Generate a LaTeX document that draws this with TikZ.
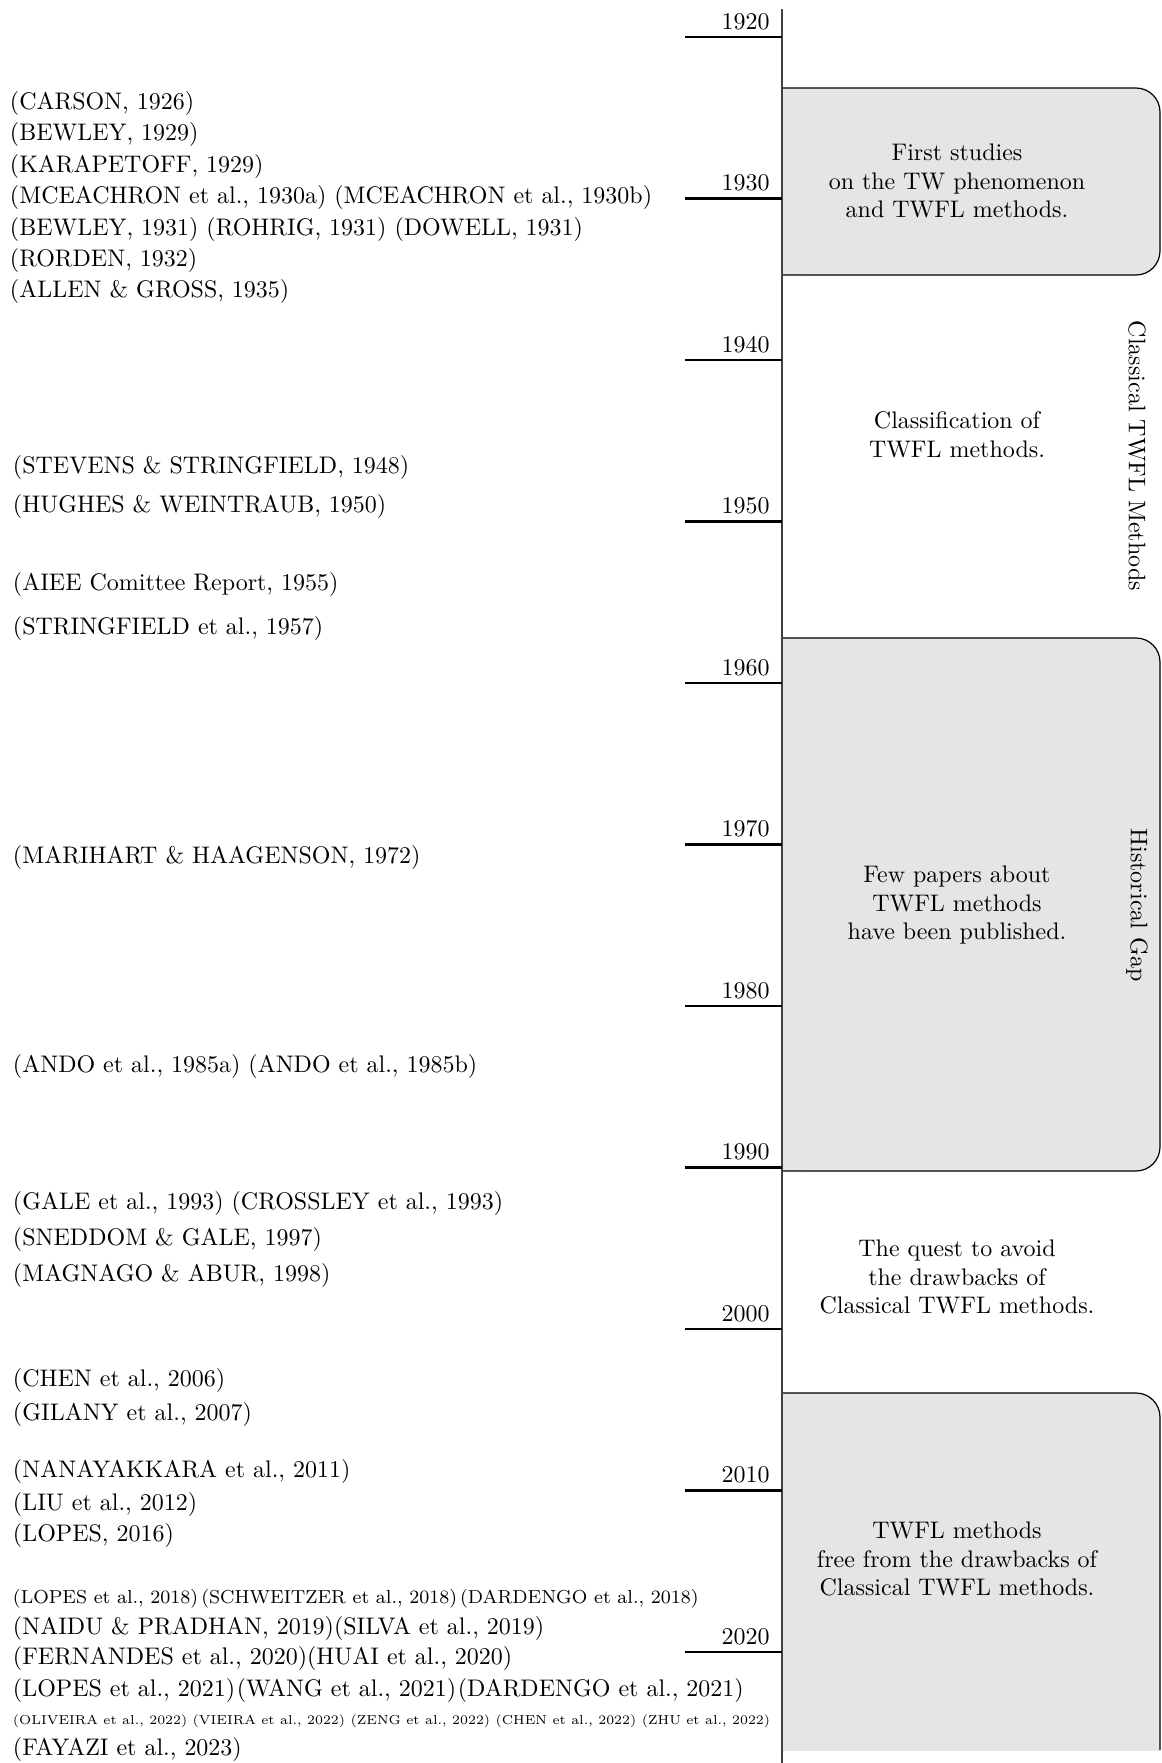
\documentclass[tikz,border=0pt]{standalone}
\definecolor{periodfill}{gray}{0.9}
\begin{document}
\begin{tikzpicture}[x=0.417pt, y=-0.417pt,
  cite/.style={anchor=west, inner sep=0pt},
  yearlabel/.style={anchor=base east, inner sep=0pt},
  tickline/.style={line width=0.9pt},
  axisline/.style={line width=0.5pt, black!75},
  periodbox/.style={draw=black, line width=0.5pt, rounded corners=10pt},
  periodtext/.style={align=center, inner sep=0pt},
  sidelabel/.style={rotate=-90, inner sep=0pt}]

\useasboundingbox (0,0) rectangle (1162,1763);

% shaded periods (square on the axis side, rounded on the right)
\fill[periodfill, rounded corners=10pt] (782,88) rectangle (1160,275);
\fill[periodfill] (782,88) rectangle (900,275);
\fill[periodfill, rounded corners=10pt] (782,638) rectangle (1160,1171);
\fill[periodfill] (782,638) rectangle (900,1171);
\begin{scope}
  \clip (782,1380) rectangle (1162,1750);
  \fill[periodfill, rounded corners=10pt] (782,1393) rectangle (1160,1800);
  \fill[periodfill] (782,1393) rectangle (900,1800);
\end{scope}

\draw[periodbox] (782,88) -- (1160,88) -- (1160,275) -- (782,275);
\draw[periodbox] (782,638) -- (1160,638) -- (1160,1171) -- (782,1171);
\draw[periodbox] (782,1393) -- (1160,1393) -- (1160,1750);

% time axis
\coordinate (axtop) at (782,9);
\coordinate (axbot) at (782,1763);
\draw[axisline] (axtop) -- (axbot);

% decade ticks and labels
\foreach \yr [count=\i from 0] in {1920,1930,...,2020} {
  \coordinate (s\yr) at (685,{37+161.5*\i});
  \coordinate (t\yr) at (782,{37+161.5*\i});
  \draw[tickline] (s\yr) -- (t\yr);
  \node[yearlabel] (y\yr) at (770,{29+161.5*\i}) {\yr};
}

% period descriptions
\node[periodtext] (p1) at (957,181) {First studies\\on the TW phenomenon\\and TWFL methods.};
\node[periodtext] (p2) at (957,435) {Classification of\\TWFL methods.};
\node[periodtext] (p3) at (957,905) {Few papers about\\TWFL methods\\have been published.};
\node[periodtext] (p4) at (957,1277) {The quest to avoid\\the drawbacks of\\Classical TWFL methods.};
\node[periodtext] (p5) at (957,1559) {TWFL methods\\free from the drawbacks of\\Classical TWFL methods.};

\node[sidelabel] (classical) at (1137,456) {Classical TWFL Methods};
\node[sidelabel] (gap) at (1137,905) {Historical Gap};

% references
\node[cite] (c1) at (9.5,103.5) {(CARSON, 1926)};
\node[cite] (c2) at (9.5,134.9) {(BEWLEY, 1929)};
\node[cite] (c3) at (9.5,166.3) {(KARAPETOFF, 1929)};
\node[cite] (c4) at (9.5,197.7) {(MCEACHRON et al., 1930a) (MCEACHRON et al., 1930b)};
\node[cite] (c5) at (9.5,229.1) {(BEWLEY, 1931) (ROHRIG, 1931) (DOWELL, 1931)};
\node[cite] (c6) at (9.5,260.5) {(RORDEN, 1932)};
\node[cite] (c7) at (9.5,291.9) {(ALLEN \& GROSS, 1935)};

\node[cite] (c8) at (12.5,467) {(STEVENS \& STRINGFIELD, 1948)};
\node[cite] (c9) at (12.5,506) {(HUGHES \& WEINTRAUB, 1950)};
\node[cite] (c10) at (12.5,584) {(AIEE Comittee Report, 1955)};
\node[cite] (c11) at (12.5,628) {(STRINGFIELD et al., 1957)};
\node[cite] (c12) at (12.5,857) {(MARIHART \& HAAGENSON, 1972)};
\node[cite] (c13) at (12.5,1066) {(ANDO et al., 1985a) (ANDO et al., 1985b)};
\node[cite] (c14) at (12.5,1203) {(GALE et al., 1993) (CROSSLEY et al., 1993)};
\node[cite] (c15) at (12.5,1239) {(SNEDDOM \& GALE, 1997)};
\node[cite] (c16) at (12.5,1275) {(MAGNAGO \& ABUR, 1998)};
\node[cite] (c17) at (12.5,1380) {(CHEN et al., 2006)};
\node[cite] (c18) at (12.5,1414) {(GILANY et al., 2007)};
\node[cite] (c19) at (12.5,1471) {(NANAYAKKARA et al., 2011)};
\node[cite] (c20) at (12.5,1504) {(LIU et al., 2012)};
\node[cite] (c21) at (12.5,1535) {(LOPES, 2016)};
\node[cite, font=\fontsize{7.85}{10}\selectfont] (c22) at (12.5,1599)
  {(LOPES et al., 2018)\,(SCHWEITZER et al., 2018)\,(DARDENGO et al., 2018)};
\node[cite] (c23) at (12.5,1628) {(NAIDU \& PRADHAN, 2019)(SILVA et al., 2019)};
\node[cite] (c24) at (12.5,1658) {(FERNANDES et al., 2020)(HUAI et al., 2020)};
\node[cite] (c25) at (12.5,1690) {(LOPES et al., 2021)\hspace{0.7pt}(WANG et al., 2021)\hspace{0.7pt}(DARDENGO et al., 2021)};
\node[cite, font=\fontsize{5.5}{7}\selectfont] (c26) at (12.5,1721)
  {\scalebox{0.985}{(OLIVEIRA et al., 2022) (VIEIRA et al., 2022) (ZENG et al., 2022) (CHEN et al., 2022) (ZHU et al., 2022)}};
\node[cite] (c27) at (12.5,1749) {(FAYAZI et al., 2023)};
\end{tikzpicture}
\end{document}
